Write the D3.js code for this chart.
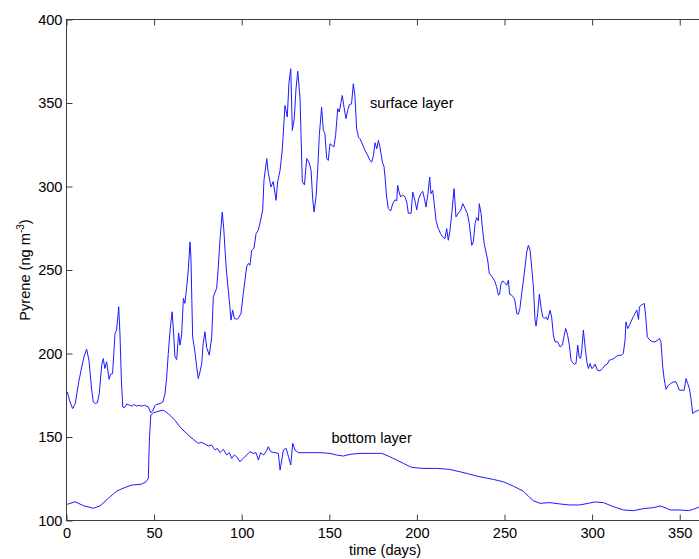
<!DOCTYPE html>
<html>
<head>
<meta charset="utf-8">
<script src="https://cdn.jsdelivr.net/npm/d3@7/dist/d3.min.js"></script>
<style>
  html, body { margin: 0; padding: 0; background: #fff; }
  svg { display: block; overflow: hidden; }
  text { font-family: "Liberation Sans", Arial, sans-serif; fill: #000; }
</style>
</head>
<body>
<svg id="chart" width="699" height="559"></svg>
<script>
// Pyrene concentration over one year, surface and bottom layers
const surfaceDays = [0.5,2,3.5,5,7,8.7,10,11.5,12.8,14.4,15.3,16.5,17.6,18.7,20.1,21,21.9,22.9,24.3,25.2,26.3,27.7,28.6,29.8,30.5,31.3,32.1,33,34.4,36,37.5,38.5,40,41.5,43,44.5,46.7,48.1,49.2,50.5,51.5,53.4,55,56.2,57.2,58.1,59.2,60.3,61.2,61.9,62.9,64,64.8,65.7,66.7,67.6,68.6,69.5,70.5,71,72,73.3,74.3,75.2,76.2,77.2,78,79,80,81.5,82.9,83.8,85.7,86.5,87.6,88.9,89.8,90.6,91.4,92.9,93.9,94.8,95.8,97,98,99.6,100.9,102.8,103.8,104.7,105.7,107,108.2,109.5,110.8,112,112.7,114.3,115.2,116.7,118,119.6,120.5,121.9,123.2,124.7,126,127,128,128.9,130,131,132,133.3,134.6,135.8,137.1,138.4,139.6,140.5,141.3,142.5,143.4,144.3,145.6,146.6,147.5,148.5,149.4,150.4,151.7,152.6,153.6,154.8,155.7,156.7,157.4,158.4,159.5,160.5,161.4,162.7,163.7,164.6,165.6,166.6,167.5,168.8,170.4,171.9,173.2,174.2,175.2,176.1,177.1,178,178.9,180.3,181.2,181.8,182.7,183.7,185,186.2,187.5,188.5,189,189.8,190.7,191.9,193.2,194.2,195.1,196.7,197.6,198.4,199.2,199.9,201,202.2,203.3,204.3,205.2,206.3,207.3,208,209,209.9,210.9,212.2,213.5,214.7,216,217,217.9,218.9,219.9,221.2,222.3,223.6,225,226.2,227.5,228.8,229.9,231.3,232.2,233.2,234.1,235.1,235.6,236.6,237.5,238.4,239.4,240.4,241.3,242.6,244.2,245.5,246.5,247.2,248,249,250.3,251.3,252.2,252.9,254.1,255.2,255.9,257,257.9,258.8,259.8,260.7,261.7,262.7,263.6,264.6,265.5,266.5,267.4,268,268.9,269.9,270.8,271.8,272.7,273.7,274.6,276,276.9,277.9,278.8,280.3,281.7,283,284.1,284.9,286,287,288,288.9,289.9,290.8,291.8,292.6,293.4,294.1,295,296,297,297.9,298.9,299.8,300.7,301.7,303,304.5,306,307.3,308.7,309.8,311.2,312.5,314,315.5,316.9,317.8,318.8,319.3,320.3,321.3,322.6,323.5,324.5,325.5,326.5,327,327.9,328.9,329.8,330.6,331.5,333,334.6,335.9,337.5,338.4,339.3,340.3,341.1,342.2,343.5,344.8,346.4,347.9,348.7,349.8,351.2,352.5,353.6,354.6,355.5,356.3,357.4,358.5,360.6,362];
const surfaceValues = [177,171,167,170,183,192,198,202.6,196,178,171,170,170.5,176,193,197,191,195,184.5,187.6,188,212,214,228,212,185,168,167.5,169.7,169,168.5,169.5,168.5,169,168.5,169,168,164.5,165.5,168.8,169.5,170,171,175.7,186,200,215,225,211,198,196.4,212.3,205,211,233,230,240,250,266.8,258,210,201,192,185,189,194,206,213,203.5,199,210,234,239,250,268,284.7,274,260,248,232,220,226,221,220.5,221,224,236,251.8,254,252.8,261.8,263,271.8,274,279.8,286,303.7,316.7,308,299.7,303,291.7,302.7,309.7,322.6,348.5,341.6,362.5,370.5,333.6,340.6,358.5,369,352.5,302.7,301,316.7,314.6,309.7,292.7,284.7,294.7,310.7,330.6,347.5,333.6,331.6,316.7,315.6,325.6,324.6,323.6,330.6,346.6,344.6,350.5,354.5,347.5,340.6,345.6,349,349.5,361.5,354.5,334.6,329.6,328.6,325.6,321.6,318.6,315.6,314.6,318.6,326.2,322.6,327.6,323.6,314.6,312,305.7,293.7,286.8,285.3,289.7,292,291.5,300.7,296.7,293.7,295,293.7,290.7,284,284,296.7,293.7,290,286,292.7,295.7,297.1,292.7,287.7,295.7,305.7,295.7,297.7,289.7,279.8,274.8,271.8,269.8,268.8,274.8,267.8,273.8,283.8,298.7,281.8,284,285.7,289.7,286.8,283.8,277.8,264.8,266.8,277.8,281.4,279.4,289.7,283.8,273.8,265.8,260.8,255.9,247.9,246.3,243.9,240,234.9,235.5,241.9,243.5,241.9,240.9,243.9,235.5,234.9,233.5,231.9,224,223.5,227,236,242.9,251.8,260.8,264.8,261.8,251.8,240,220,216.4,224,235.5,227.9,221.9,221,221.9,220,225.9,221.9,211,207,207,204,205,211,215,211,205,196,194.4,193.6,194,205,198,197,202,214,204,195,191,194,191,191.7,193.7,190,189.6,191,193,193.7,196,196.4,197,198.4,199,199,200,208,218.9,214.9,216.9,220,222,224,226,220.4,228,228.9,229.5,229.9,222,210,208,207,207,208,209,207,192,185,178.5,181,182,183,183,181,178,178,178,185,182,179,174,164,165,166,167];

const bottomDays = [0.5,4.9,9.6,15.3,19.1,23.9,28.6,33.4,37.2,42.9,45.4,46.7,47.3,48.1,49.6,53.4,55.3,58.1,61.9,64.8,68.6,72.4,75.2,77.1,79,80.9,82.8,84.8,86.1,87.6,89.5,91.4,92.9,94.3,95.8,97.1,99,100.9,102.8,104.7,106.6,108.2,109.5,110.8,112.4,113.9,115.2,116.5,119,120.9,121.9,123.8,125.4,126.7,128,129.1,130.4,132.3,139,144.7,150.4,154.2,158,161.8,167.5,173.2,179.9,183.7,188.5,192.3,197,203.6,211.2,218.8,224.5,229.9,234.1,243.6,249.3,255,260.7,263.6,266.4,270.2,275.9,281.6,287.3,293,297.8,301.6,306.4,312.1,317.8,323.6,329.3,335,338.8,341.6,344.5,350.2,355,357.8,360.6,362];
const bottomValues = [109.7,111.2,108.9,107.3,108.7,113.3,117.6,119.8,121.2,121.8,123.2,125.2,148.2,163,164.5,165.7,166,164,160,156,152,148.6,146.2,146.8,145.8,144.6,145.2,142.2,143.2,140.6,142.6,139.2,140.6,137.2,139.2,138.2,135.2,137.2,139.2,141.2,140.2,140.6,136.2,140.6,139.2,141.2,144.2,141.2,140.6,140.2,130.2,142.2,143.2,138.2,133.2,146.2,142.2,140.6,140.6,140.6,140.2,139.2,138.6,139.6,140.2,140.2,140.2,138.6,136.2,134.2,131.8,131.2,131.2,130.6,129.2,127.8,126.6,124.6,123.2,120.6,117.6,114.6,111.9,110.3,110.7,109.9,109.3,109.3,110.3,111.1,110.7,108.3,106.3,105.9,107.1,107.7,108.7,107.7,106.3,106.3,105.9,106.7,107.9,108.2];

const xTicks = [0, 50, 100, 150, 200, 250, 300, 350];
const yTicks = [100, 150, 200, 250, 300, 350, 400];
const xDomain = [0, 365];
const yDomain = [100, 400];

const svg = d3.select("#chart");
svg.append("rect").attr("width", 699).attr("height", 559).attr("fill", "#fff");

const plotLeft = 66.5, plotRight = 706, plotTop = 19.5, plotBottom = 520.5;
const x = d3.scaleLinear().domain(xDomain).range([plotLeft, plotRight]);
const y = d3.scaleLinear().domain(yDomain).range([plotBottom, plotTop]);

const fontSize = "14.6px";
const axisColor = "#3c3c3c";

// data lines
const line = d3.line().x(d => x(d[0])).y(d => y(d[1]));
const surface = surfaceDays.map((d, i) => [d, surfaceValues[i]]);
const bottomLayer = bottomDays.map((d, i) => [d, bottomValues[i]]);

const plot = svg.append("g");
[surface, bottomLayer].forEach(data => {
  plot.append("path")
    .datum(data)
    .attr("d", line)
    .attr("fill", "none")
    .attr("stroke", "#1a1aff")
    .attr("stroke-width", 1);
});

// axes box
svg.append("rect")
  .attr("x", plotLeft).attr("y", plotTop)
  .attr("width", plotRight - plotLeft).attr("height", plotBottom - plotTop)
  .attr("fill", "none").attr("stroke", axisColor).attr("stroke-width", 1);

function styleAxis(g) {
  g.select(".domain").remove();
  g.selectAll(".tick line").attr("stroke", axisColor);
  g.selectAll(".tick text").attr("font-size", fontSize)
    .attr("font-family", "Liberation Sans, Arial, sans-serif").attr("fill", "#000");
}

svg.append("g")
  .attr("transform", `translate(0,${plotBottom})`)
  .call(d3.axisBottom(x).tickValues(xTicks).tickSizeInner(-6).tickSizeOuter(0).tickPadding(7))
  .call(styleAxis);

svg.append("g")
  .attr("transform", `translate(0,${plotTop})`)
  .call(d3.axisTop(x).tickValues(xTicks).tickSizeInner(-6).tickSizeOuter(0).tickFormat(""))
  .call(styleAxis);

svg.append("g")
  .attr("transform", `translate(${plotLeft},0)`)
  .call(d3.axisLeft(y).tickValues(yTicks).tickSizeInner(-6).tickSizeOuter(0).tickPadding(4))
  .call(styleAxis);

// axis titles
svg.append("text")
  .attr("x", 385).attr("y", 555)
  .attr("text-anchor", "middle")
  .attr("font-size", fontSize)
  .text("time (days)");

const yl = svg.append("text")
  .attr("transform", "translate(29.5,270) rotate(-90)")
  .attr("text-anchor", "middle")
  .attr("font-size", fontSize);
yl.append("tspan").text("Pyrene (ng m");
yl.append("tspan").attr("font-size", "10px").attr("dy", "-6").text("-3");
yl.append("tspan").attr("dy", "6").text(")");

// series labels
svg.append("text").attr("x", 370).attr("y", 108).attr("font-size", fontSize).text("surface layer");
svg.append("text").attr("x", 331.5).attr("y", 443).attr("font-size", fontSize).text("bottom layer");
</script>
</body>
</html>
